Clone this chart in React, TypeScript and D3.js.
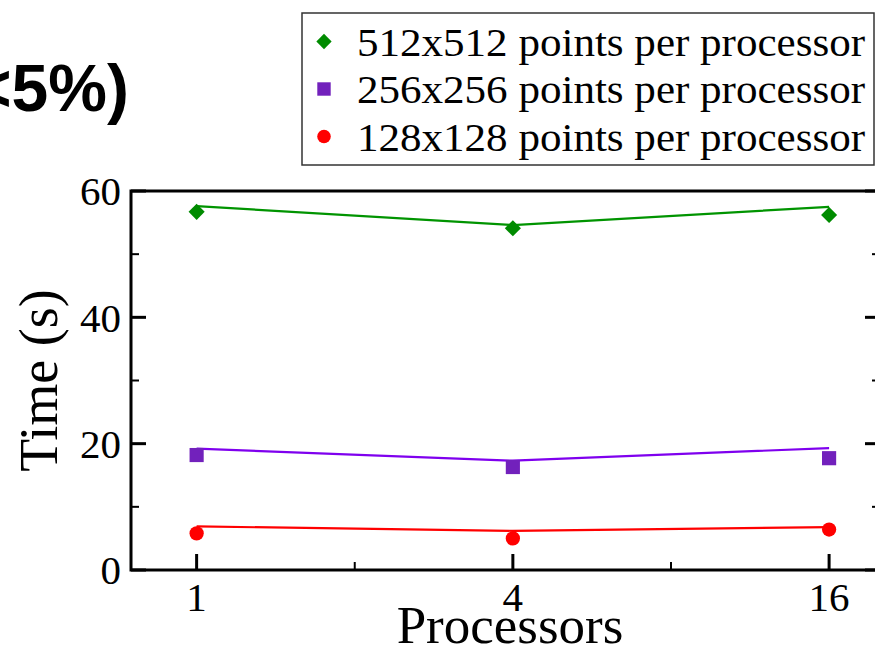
import React from 'react'
import * as d3 from 'd3'

// processors on the x axis (log2)
const processors = [1, 4, 16]
const seriesLabels = [
  '512x512 points per processor',
  '256x256 points per processor',
  '128x128 points per processor',
]
// measured times (markers)
const measured512 = [56.7, 54.1, 56.2]
const measured256 = [18.2, 16.3, 17.7]
const measured128 = [5.8, 5.0, 6.4]
// model times (lines)
const model512 = [57.6, 54.6, 57.5]
const model256 = [19.2, 17.3, 19.3]
const model128 = [6.9, 6.2, 6.8]

const xTicks = [1, 4, 16]
const xMinorTicks = [2, 8]
const yTicks = [0, 20, 40, 60]
const yMinorTicks = [10, 30, 50]

const W = 875, H = 669
const serif = '"Liberation Serif", "Times New Roman", serif'

export default function App() {
  const x = d3.scaleLog().base(2).domain([0.75, 20]).range([131, 880])
  const y = d3.scaleLinear().domain([0, 60]).range([570, 191])

  const series = [
    { label: seriesLabels[0], pts: measured512, model: model512, marker: '#008b00', line: '#009400', shape: d3.symbolSquare, size: 130, rot: 45 },
    { label: seriesLabels[1], pts: measured256, model: model256, marker: '#7221bc', line: '#7f00ee', shape: d3.symbolSquare, size: 200, rot: 0 },
    { label: seriesLabels[2], pts: measured128, model: model128, marker: '#ff0000', line: '#ff0000', shape: d3.symbolCircle, size: 160, rot: 0 },
  ]

  const line = d3.line<number>()
    .x((d, i) => x(processors[i]))
    .y(d => y(d))

  const x0 = x.range()[0], x1 = x.range()[1]
  const y0 = y.range()[0], y1 = y.range()[1]

  return (
    <svg width={W} height={H} style={{ position: 'absolute', left: 0, top: 0, background: '#fff' }}>
      {/* title fragment, cut at the left edge */}
      <text x={129} y={111} textAnchor="end" fontFamily='"Liberation Sans", Arial, sans-serif'
        fontWeight="bold" fontSize={66}>{'<5%)'}</text>

      {/* frame */}
      <rect x={x0} y={y1} width={x1 - x0} height={y0 - y1} fill="none" stroke="#000" strokeWidth={3} />

      {/* y ticks, left and right */}
      {yTicks.map(t => (
        <g key={'y' + t}>
          <line x1={x0} x2={x0 + 15} y1={y(t)} y2={y(t)} stroke="#000" strokeWidth={3} />
          <line x1={x1} x2={x1 - 15} y1={y(t)} y2={y(t)} stroke="#000" strokeWidth={3} />
          <text x={121} y={y(t)} dy="0.35em" textAnchor="end" fontFamily={serif} fontSize={41}>{t}</text>
        </g>
      ))}
      {yMinorTicks.map(t => (
        <g key={'ym' + t}>
          <line x1={x0} x2={x0 + 8} y1={y(t)} y2={y(t)} stroke="#000" strokeWidth={2} />
          <line x1={x1} x2={x1 - 8} y1={y(t)} y2={y(t)} stroke="#000" strokeWidth={2} />
        </g>
      ))}

      {/* x ticks */}
      {xTicks.map(t => (
        <g key={'x' + t}>
          <line x1={x(t)} x2={x(t)} y1={y0} y2={y0 - 16} stroke="#000" strokeWidth={3} />
          <text x={x(t)} y={611} textAnchor="middle" fontFamily={serif} fontSize={41}>{t}</text>
        </g>
      ))}
      {xMinorTicks.map(t => (
        <line key={'xm' + t} x1={x(t)} x2={x(t)} y1={y0} y2={y0 - 8} stroke="#000" strokeWidth={2} />
      ))}

      {/* axis labels */}
      <text x={510} y={643} textAnchor="middle" fontFamily={serif} fontSize={53}>Processors</text>
      <text transform={`translate(57,${(y0 + y1) / 2}) rotate(-90)`} textAnchor="middle"
        fontFamily={serif} fontSize={54}>Time (s)</text>

      {/* model lines */}
      {series.map((s, i) => (
        <path key={'l' + i} d={line(s.model) || ''} fill="none" stroke={s.line} strokeWidth={2.2} />
      ))}

      {/* measured markers */}
      {series.map((s, i) =>
        s.pts.map((v, j) => (
          <path key={'m' + i + '-' + j}
            d={d3.symbol(s.shape, s.size)() || ''}
            transform={`translate(${x(processors[j])},${y(v)}) rotate(${s.rot})`}
            fill={s.marker} />
        ))
      )}

      {/* legend */}
      <rect x={302} y={13} width={572} height={152} fill="#fff" stroke="#333" strokeWidth={1.5} />
      {series.map((s, i) => {
        const cy = 41.5 + i * 47.5
        return (
          <g key={'lg' + i}>
            <path d={d3.symbol(s.shape, s.size * 0.9)() || ''}
              transform={`translate(324,${cy}) rotate(${s.rot})`} fill={s.marker} />
            <text x={357} y={cy} dy="0.35em" fontFamily={serif} fontSize={41}
              textLength={508} lengthAdjust="spacingAndGlyphs">{s.label}</text>
          </g>
        )
      })}
    </svg>
  )
}
